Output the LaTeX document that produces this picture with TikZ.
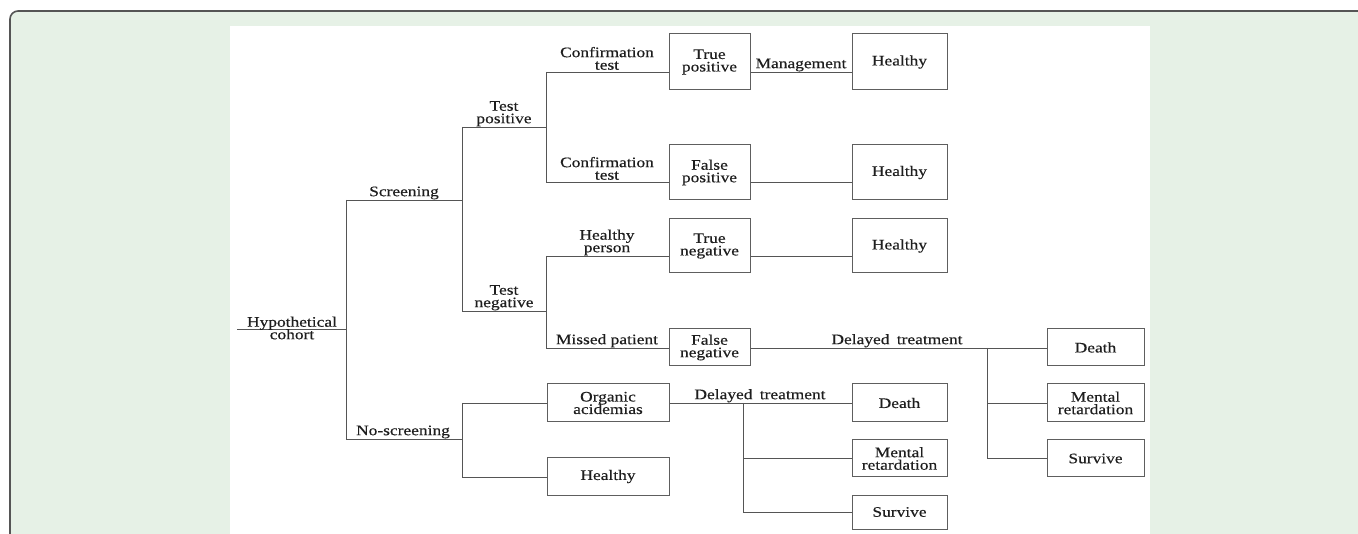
\documentclass[tikz,border=0pt]{standalone}
\usepackage{fontspec}
\setmainfont[FakeStretch=1.2,FakeBold=0.35]{Liberation Serif}
\definecolor{bgc}{HTML}{E6F1E6}
\definecolor{framec}{HTML}{555555}
\definecolor{linec}{HTML}{555555}
\definecolor{boxc}{HTML}{5E5E5E}
\definecolor{txtc}{HTML}{1E1E1E}
\newcommand\lblfont{\fontsize{14.5pt}{12.5pt}\selectfont\lineskiplimit=-20pt\lineskip=0pt}
\begin{document}
\begin{tikzpicture}[x=1pt,y=-1pt,
  box/.style={draw=boxc, line width=1pt, inner sep=0pt, align=center, font=\lblfont, text=txtc},
  lab/.style={anchor=south, inner sep=0pt, align=center, font=\lblfont, text=txtc},
  conn/.style={draw=linec, line width=0.9pt}]
\useasboundingbox (0,0) rectangle (1358,534);
\begin{scope}
\clip (0,0) rectangle (1358,534);
\draw[fill=bgc, draw=framec, line width=1.6pt, rounded corners=8pt] (10,11) rectangle (1380,560);
\fill[white] (230,26) rectangle (1150,540);
\end{scope}

% boxes
\node[box, minimum width=81pt, minimum height=56pt] (tp) at (709.5,62) {True\\positive};
\node[box, minimum width=95pt, minimum height=56pt] (h1) at (899.5,62) {Healthy};
\node[box, minimum width=81pt, minimum height=55pt] (fp) at (709.5,172.5) {False\\positive};
\node[box, minimum width=95pt, minimum height=55pt] (h2) at (899.5,172.5) {Healthy};
\node[box, minimum width=81pt, minimum height=54pt] (tn) at (709.5,246) {True\\negative};
\node[box, minimum width=95pt, minimum height=54pt] (h3) at (899.5,246) {Healthy};
\node[box, minimum width=81pt, minimum height=37pt] (fn) at (709.5,347.5) {False\\negative};
\node[box, minimum width=97pt, minimum height=37pt] (dR) at (1095.5,347.5) {Death};
\node[box, minimum width=97pt, minimum height=38pt] (mR) at (1095.5,403) {Mental\\retardation};
\node[box, minimum width=97pt, minimum height=37pt] (sR) at (1095.5,458.5) {Survive};
\node[box, minimum width=122pt, minimum height=38pt] (oa) at (608,403) {Organic\\acidemias};
\node[box, minimum width=122pt, minimum height=37pt] (h4) at (608,476.5) {Healthy};
\node[box, minimum width=95pt, minimum height=38pt] (dM) at (899.5,403) {Death};
\node[box, minimum width=95pt, minimum height=37pt] (mM) at (899.5,458.5) {Mental\\retardation};
\node[box, minimum width=95pt, minimum height=34pt] (sM) at (899.5,512) {Survive};

% branch points
\coordinate (c0) at (237,329);
\coordinate (j1) at (346,329);
\coordinate (j1t) at (346,200);
\coordinate (j1b) at (346,439);
\coordinate (j2t) at (462,127);
\coordinate (j2m) at (462,200);
\coordinate (j2b) at (462,311);
\coordinate (j3t) at (546,72);
\coordinate (j3m) at (546,127);
\coordinate (j3b) at (546,182);
\coordinate (j4t) at (546,256);
\coordinate (j4m) at (546,311);
\coordinate (j4b) at (546,348);
\coordinate (k2m) at (462,439);
\coordinate (k2t) at (462,403);
\coordinate (k2b) at (462,477);
\coordinate (j5t) at (987,348);
\coordinate (j5m) at (987,403);
\coordinate (j5b) at (987,458);
\coordinate (j6t) at (743,403);
\coordinate (j6m) at (743,458);
\coordinate (j6b) at (743,512);

% connectors
\draw[conn] (c0) -- (j1);
\draw[conn] (j1t) -- (j1b);
\draw[conn] (j1t) -- (j2m);
\draw[conn] (j2t) -- (j2b);
\draw[conn] (j2t) -- (j3m);
\draw[conn] (j3t) -- (j3b);
\draw[conn] (j3t) -- (j3t -| tp.west);
\draw[conn] (j3t -| tp.east) -- (j3t -| h1.west);
\draw[conn] (j3b) -- (j3b -| fp.west);
\draw[conn] (j3b -| fp.east) -- (j3b -| h2.west);
\draw[conn] (j2b) -- (j4m);
\draw[conn] (j4t) -- (j4b);
\draw[conn] (j4t) -- (j4t -| tn.west);
\draw[conn] (j4t -| tn.east) -- (j4t -| h3.west);
\draw[conn] (j4b) -- (j4b -| fn.west);
\draw[conn] (j4b -| fn.east) -- (j4b -| dR.west);
\draw[conn] (j5t) -- (j5b);
\draw[conn] (j5m) -- (j5m -| mR.west);
\draw[conn] (j5b) -- (j5b -| sR.west);
\draw[conn] (j1b) -- (k2m);
\draw[conn] (k2t) -- (k2b);
\draw[conn] (k2t) -- (oa.west);
\draw[conn] (k2b) -- (k2b -| h4.west);
\draw[conn] (oa.east) -- (dM.west);
\draw[conn] (j6t) -- (j6b);
\draw[conn] (j6m) -- (j6m -| mM.west);
\draw[conn] (j6b) -- (j6b -| sM.west);

% labels
\node[font=\lblfont, text=txtc, align=center, inner sep=0pt] (lcoh) at (292,328) {Hypothetical\\cohort};
\node[lab] (lscr) at (404,199.5) {Screening};
\node[lab] (lnos) at (403,438.5) {No-screening};
\node[lab] (ltp) at (504,126.5) {Test\\positive};
\node[lab] (ltn) at (504,310.5) {Test\\negative};
\node[lab] (lct1) at (607,70) {Confirmation\\test};
\node[lab] (lct2) at (607,180) {Confirmation\\test};
\node[lab] (lhp) at (607,255.5) {Healthy\\person};
\node[lab] (lmp) at (607,347.5) {Missed patient};
\node[lab] (lman) at (801,71.5) {Management};
\node[lab] (ldt1) at (897,347.5) {Delayed\hspace{3pt} treatment};
\node[lab] (ldt2) at (760,402.5) {Delayed\hspace{3pt} treatment};
\end{tikzpicture}
\end{document}
